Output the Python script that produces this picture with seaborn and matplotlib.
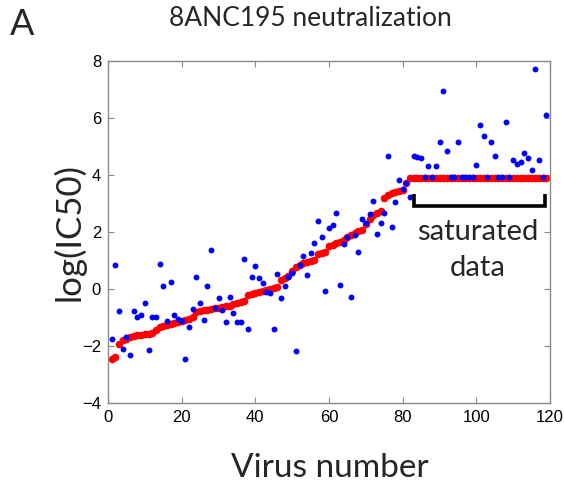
import numpy as np
import pandas as pd
import matplotlib
matplotlib.use("Agg")
import matplotlib.pyplot as plt
import seaborn as sns

# ---- data ----
virus_number = list(range(1, 120))

measured_sorted = [
    -2.47, -2.37, -1.94, -1.80, -1.74, -1.70, -1.66, -1.62, -1.60, -1.58,
    -1.57, -1.55, -1.45, -1.32, -1.29, -1.26, -1.22, -1.19, -1.16, -1.12,
    -1.09, -1.05, -0.99, -0.80, -0.77, -0.74, -0.72, -0.70, -0.68, -0.66,
    -0.64, -0.61, -0.58, -0.54, -0.50, -0.46, -0.41, -0.20, -0.16, -0.13,
    -0.09, -0.06, -0.03, 0.00, 0.03, 0.07, 0.30, 0.38, 0.46, 0.62,
    0.76, 0.85, 0.92, 0.96, 0.99, 1.02, 1.22, 1.26, 1.30, 1.50,
    1.54, 1.60, 1.66, 1.72, 1.83, 1.90, 1.96, 2.03, 2.08, 2.28,
    2.45, 2.60, 2.68, 2.75, 3.18, 3.30, 3.37, 3.42, 3.45, 3.47,
    3.72, 3.88,
] + [3.912] * 37

predicted = [
    -1.74, 0.84, -0.77, -2.09, -1.68, -2.32, -0.77, -0.98, -0.90, -0.48,
    -2.14, -0.99, -0.99, 0.88, 0.12, -1.11, 0.25, -0.90, -1.05, -1.11,
    -2.47, -1.32, -0.69, 0.41, -0.50, -1.09, 0.10, 1.37, -0.65, -0.30,
    -0.74, -1.16, -0.27, -0.83, -1.16, -1.16, 1.05, -1.39, 0.41, 0.81,
    0.37, 0.20, -0.12, -0.15, -1.42, 0.52, -0.30, 0.10, 0.43, 0.55,
    -2.18, 0.85, 1.15, 0.48, 1.26, 1.60, 2.40, 1.81, -0.07, 2.15,
    2.26, 2.67, 0.13, 1.57, 1.84, -0.27, 1.88, 1.30, 2.47, 2.30,
    2.62, 3.08, 1.94, 2.32, 2.68, 4.66, 2.18, 3.04, 3.81, 3.51,
    3.72, 3.24, 4.66, 4.63, 4.59, 3.93, 4.33, 3.93, 4.33, 5.15,
    6.95, 4.84, 3.93, 3.93, 5.15, 3.93, 3.93, 3.93, 3.93, 4.35,
    5.75, 5.38, 3.93, 5.15, 4.67, 3.93, 3.93, 5.85, 3.93, 4.52,
    4.40, 4.46, 4.76, 4.60, 4.18, 7.73, 4.54, 3.93, 6.09,
]

x_ticks = [0, 20, 40, 60, 80, 100, 120]
y_ticks = [-4, -2, 0, 2, 4, 6, 8]

df = pd.DataFrame({"virus": virus_number, "measured": measured_sorted,
                   "predicted": predicted})

sns.set_style("ticks")
plt.rcParams["font.family"] = ["Liberation Sans", "DejaVu Sans"]

fig = plt.figure(figsize=(5.64, 4.82), dpi=100)
ax = fig.add_axes([108 / 564, 1 - 403 / 482, 442 / 564, 342 / 482])

sns.scatterplot(data=df, x="virus", y="measured", ax=ax, color="#ff0000",
                s=30, linewidth=0, zorder=2, legend=False)
sns.scatterplot(data=df, x="virus", y="predicted", ax=ax, color="#0000ff",
                s=18, linewidth=0, zorder=3, legend=False)

ax.set_xlim(0, 120)
ax.set_ylim(-4, 8)
ax.set_xticks(x_ticks)
ax.set_yticks(y_ticks)
ax.set_xlabel("")
ax.set_ylabel("")
for sp in ax.spines.values():
    sp.set_visible(True)
    sp.set_color("#8a8a8a")
    sp.set_linewidth(1.0)
ax.tick_params(direction="in", length=4, width=0.8, color="#8a8a8a",
               top=True, right=True, labelsize=12, labelcolor="black", pad=5)

# bracket for saturated data
bx0, bx1, by_top, by_bot = 83, 118.6, 3.35, 2.9
ax.plot([bx0, bx0, bx1, bx1], [by_top, by_bot, by_bot, by_top],
        color="black", lw=2.6, solid_capstyle="butt", solid_joinstyle="miter",
        zorder=4)

lato = ["Lato", "DejaVu Sans"]
fig.text(478 / 564, 1 - 232 / 482, "saturated", ha="center", va="center",
         fontsize=21, family=lato)
fig.text(478 / 564, 1 - 268 / 482, "data", ha="center", va="center",
         fontsize=21, family=lato)

fig.text(10 / 564, 1 - 8 / 482, "A", ha="left", va="top", fontsize=26,
         family=lato)
fig.text(310 / 564, 1 - 18 / 482, "8ANC195 neutralization", ha="center",
         va="center", fontsize=19, family=lato)
fig.text(69 / 564, 1 - 232 / 482, "log(IC50)", ha="center", va="center",
         rotation=90, fontsize=25, family=lato)
fig.text(330 / 564, 1 - 468 / 482, "Virus number", ha="center", va="center",
         fontsize=24, family=lato)

fig.savefig("out.png", dpi=100)
